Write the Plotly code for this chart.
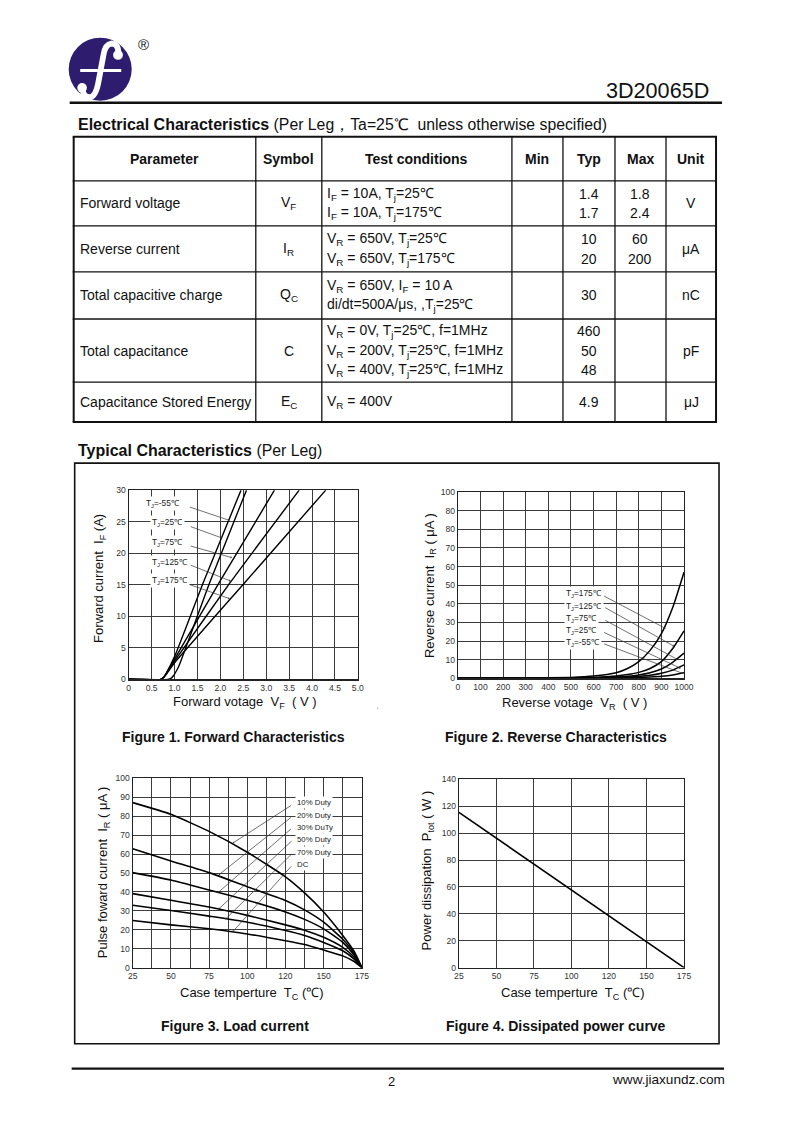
import plotly.graph_objects as go

PAGE_W, PAGE_H = 786, 1122
OFF = 8                      # browser body margin
W, H = PAGE_W - 2 * OFF, PAGE_H - 2 * OFF
# page coordinate system expressed in reference-picture pixels
SX, BX = 0.98, 5.5
SY, BY = 0.99, 5.4
X0, X1 = BX + SX * OFF, BX + SX * (OFF + W)
Y0, Y1 = BY + SY * OFF, BY + SY * (OFF + H)

FONT = "Liberation Sans, Arial, sans-serif"
INK = "#111111"
GRID = "#3c3c3c"
TICK = "#333333"
NAVY = "#2e1c6e"

# ---------------- page texts ----------------
part_number = "3D20065D"
section1_title = "Electrical Characteristics"
section1_note = " (Per Leg，Ta=25℃  unless otherwise specified)"
section2_title = "Typical Characteristics"
section2_note = " (Per Leg)"
page_number = "2"
website = "www.jiaxundz.com"

# ---------------- table data ----------------
col_headers = ["Parameter", "Symbol", "Test conditions", "Min", "Typ", "Max", "Unit"]
row_params = ["Forward voltage", "Reverse current", "Total capacitive charge",
              "Total capacitance", "Capacitance Stored Energy"]
row_symbols = ["V<sub>F</sub>", "I<sub>R</sub>", "Q<sub>C</sub>", "C", "E<sub>C</sub>"]
row_conditions = [
    ["I<sub>F</sub> = 10A, T<sub>j</sub>=25℃", "I<sub>F</sub> = 10A, T<sub>j</sub>=175℃"],
    ["V<sub>R</sub> = 650V, T<sub>j</sub>=25℃", "V<sub>R</sub> = 650V, T<sub>j</sub>=175℃"],
    ["V<sub>R</sub> = 650V, I<sub>F</sub> = 10 A", "di/dt=500A/μs, ,T<sub>j</sub>=25℃"],
    ["V<sub>R</sub> = 0V, T<sub>j</sub>=25℃, f=1MHz",
     "V<sub>R</sub> = 200V, T<sub>j</sub>=25℃, f=1MHz",
     "V<sub>R</sub> = 400V, T<sub>j</sub>=25℃, f=1MHz"],
    ["V<sub>R</sub> = 400V"],
]
row_min = [[], [], [], [], []]
row_typ = [["1.4", "1.7"], ["10", "20"], ["30"], ["460", "50", "48"], ["4.9"]]
row_max = [["1.8", "2.4"], ["60", "200"], [], [], []]
row_units = ["V", "μA", "nC", "pF", "μJ"]

# ---------------- Figure 1: forward characteristics ----------------
fwd_labels = ["T<sub>J</sub>=-55℃", "T<sub>J</sub>=25℃", "T<sub>J</sub>=75℃",
              "T<sub>J</sub>=125℃", "T<sub>J</sub>=175℃"]
fwd_vf = [
    [0, 0.85, 0.93, 0.98, 1.03, 1.10, 1.77, 2.57],
    [0, 0.70, 0.76, 0.82, 1.00, 1.63, 2.45],
    [0, 0.70, 0.76, 0.82, 1.00, 1.98, 3.18],
    [0, 0.70, 0.76, 0.82, 1.00, 2.22, 3.72],
    [0, 0.70, 0.76, 0.82, 1.00, 2.54, 4.30],
]
fwd_if = [
    [0, 0, 0.2, 0.6, 1.2, 2.2, 15.4, 30],
    [0, 0, 0.3, 1.0, 3.6, 15.4, 30],
    [0, 0, 0.3, 0.9, 3.2, 15.4, 30],
    [0, 0, 0.3, 0.9, 2.9, 15.4, 30],
    [0, 0, 0.3, 0.8, 2.6, 15.4, 30],
]
fwd_label_vf = [0.33, 0.47, 0.47, 0.47, 0.47]
fwd_label_if = [27.9, 24.8, 21.7, 18.6, 15.6]
fwd_tail_vf = [1.30, 1.32, 1.32, 1.32, 1.30]
fwd_tail_if = [27.4, 24.3, 21.2, 18.2, 15.1]
fwd_head_vf = [2.20, 2.04, 2.25, 2.22, 2.20]
fwd_head_if = [25.2, 22.4, 19.3, 15.6, 12.8]
fwd_xticks = [0, 0.5, 1.0, 1.5, 2.0, 2.5, 3.0, 3.5, 4.0, 4.5, 5.0]
fwd_xticktext = ["0", "0.5", "1.0", "1.5", "2.0", "2.5", "3.0", "3.5", "4.0", "4.5", "5.0"]
fwd_yticks = [0, 5, 10, 15, 20, 25, 30]

# ---------------- Figure 2: reverse characteristics ----------------
rev_labels = ["T<sub>J</sub>=175℃", "T<sub>J</sub>=125℃", "T<sub>J</sub>=75℃",
              "T<sub>J</sub>=25℃", "T<sub>J</sub>=-55℃"]
rev_vr = [0, 300, 500, 600, 700, 750, 800, 850, 900, 950, 1000]
rev_ir = [
    [0, 0.10, 0.50, 1.20, 3.00, 5.30, 9.0, 15.0, 24.0, 38.0, 57.0],
    [0, 0.05, 0.20, 0.50, 1.20, 2.00, 3.2, 5.3, 9.0, 16.0, 25.5],
    [0, 0.00, 0.10, 0.25, 0.70, 1.10, 1.8, 3.0, 5.0, 8.6, 13.5],
    [0, 0.00, 0.05, 0.15, 0.40, 0.60, 1.0, 1.6, 2.7, 4.4, 7.2],
    [0, 0.00, 0.00, 0.05, 0.15, 0.25, 0.4, 0.7, 1.1, 1.8, 3.0],
]
rev_label_vr = [470, 470, 470, 470, 470]
rev_label_ir = [45.5, 38.8, 32.3, 25.9, 19.3]
rev_tail_vr = [640, 645, 645, 640, 640]
rev_tail_ir = [44.6, 38.4, 31.6, 25.0, 18.8]
rev_head_vr = [918, 955, 970, 985, 993]
rev_head_ir = [26.8, 17.3, 10.2, 5.4, 2.7]
rev_xticks = [0, 100, 200, 300, 400, 500, 600, 700, 800, 900, 1000]
rev_yticks = [0, 10, 20, 30, 40, 50, 60, 70, 80, 90, 100]
rev_yticktext = ["0", "10", "20", "30", "40", "50", "60", "70", "80", "80", "100"]

# ---------------- Figure 3: load current ----------------
load_labels = ["10% Duty", "20% Duty", "30% DuTy", "50% Duty", "70% Duty", "DC"]
load_tc = [25, 50, 75, 100, 125, 137.5, 150, 162.5, 170, 175]
load_if = [
    [87.2, 81.0, 72.0, 61.0, 48.0, 39.5, 29.4, 17.0, 8.5, 0],
    [62.8, 56.4, 50.2, 42.7, 35.5, 30.5, 24.0, 15.0, 7.5, 0],
    [50.2, 46.3, 41.0, 35.6, 29.4, 25.5, 20.5, 13.3, 6.5, 0],
    [39.1, 35.6, 32.0, 27.6, 22.6, 19.8, 16.0, 10.7, 5.5, 0],
    [33.0, 30.2, 27.2, 24.0, 19.6, 17.0, 13.3, 8.9, 4.5, 0],
    [24.9, 22.6, 20.5, 17.8, 14.2, 12.2, 9.3, 6.2, 3.2, 0],
]
load_label_tc = [131.5, 131.5, 131.5, 131.5, 131.5, 131.5]
load_label_if = [87.2, 80.4, 74.2, 67.6, 61.0, 54.6]
load_tail_tc = [129.6, 129.6, 129.6, 130.0, 130.0, 129.6]
load_tail_if = [86.2, 80.0, 74.0, 67.6, 60.8, 54.3]
load_head_tc = [90.5, 81.3, 80.5, 81.3, 85.7, 90.5]
load_head_if = [65.8, 49.0, 39.4, 31.0, 25.6, 19.0]
tc_ticks = [25, 37.5, 50, 62.5, 75, 87.5, 100, 112.5, 125, 137.5, 150, 162.5, 175]
tc_ticktext = ["25", "", "50", "", "75", "", "100", "", "120", "", "150", "", "175"]
load_yticks = [0, 10, 20, 30, 40, 50, 60, 70, 80, 90, 100]

# ---------------- Figure 4: dissipated power ----------------
pwr_tc = [25, 175]
pwr_p = [115.5, 0]
pwr_xticks = [25, 50, 75, 100, 125, 150, 175]
pwr_xticktext = ["25", "50", "75", "100", "120", "150", "175"]
pwr_yticks = [0, 20, 40, 60, 80, 100, 120, 140]

# ---------------- figure ----------------
fig = go.Figure()
fig.add_trace(go.Scatter(x=[None], y=[None], xaxis="x", yaxis="y",
                         showlegend=False, hoverinfo="skip"))

shapes = []
ann = []


def text(x, y, s, size=14, anchor="left", bold=False, color=INK, angle=0, yanchor="middle"):
    if bold:
        s = "<b>" + s + "</b>"
    ann.append(dict(x=x, y=y, xref="x", yref="y", text=s, showarrow=False,
                    xanchor=anchor, yanchor=yanchor, textangle=angle,
                    font=dict(family=FONT, size=size, color=color)))


def hline(x0, x1, y, w=1.0, color=INK):
    shapes.append(dict(type="line", xref="x", yref="y", x0=x0, x1=x1, y0=y, y1=y,
                       line=dict(color=color, width=w)))


def vline(x, y0, y1, w=1.0, color=INK):
    shapes.append(dict(type="line", xref="x", yref="y", x0=x, x1=x, y0=y0, y1=y1,
                       line=dict(color=color, width=w)))


# ---- logo ----
shapes.append(dict(type="circle", xref="x", yref="y", x0=69, x1=132, y0=38, y1=101,
                   fillcolor=NAVY, line=dict(width=0)))
shapes.append(dict(type="path", xref="x", yref="y",
                   path="M 118.5,53.5 Q 119,43.8 111.5,43.8 Q 105.5,44.5 103.8,55 "
                        "L 98.4,84 Q 95.6,97.8 89.2,97.5 Q 84,97 83,90.5",
                   line=dict(color="white", width=5.8)))
shapes.append(dict(type="circle", xref="x", yref="y", x0=113.4, x1=123.2, y0=50.3, y1=60.1,
                   fillcolor="white", line=dict(width=0)))
shapes.append(dict(type="circle", xref="x", yref="y", x0=77.6, x1=87.2, y0=83.3, y1=92.9,
                   fillcolor="white", line=dict(width=0)))
shapes.append(dict(type="rect", xref="x", yref="y", x0=80.5, x1=121.5, y0=69.2, y1=72.2,
                   fillcolor="white", line=dict(width=0)))
text(143.5, 45, "®", size=15, anchor="center")

text(711, 91, part_number, size=21.6, anchor="right")
hline(70, 722, 103, w=2.6)

# ---- section 1 ----
text(76, 125, "<b>" + section1_title + "</b><span style='font-size:15.8px'>" + section1_note + "</span>",
     size=16)

col_x = [74, 256, 322, 512, 563, 615, 666, 716]
row_y = [137, 181, 226, 272, 319, 382, 422]
for i, yy in enumerate(row_y):
    hline(col_x[0] - 1, col_x[-1] + 1, yy, w=2.0 if i in (0, len(row_y) - 1) else 1.3)
for j, xx in enumerate(col_x):
    vline(xx, row_y[0], row_y[-1], w=2.0 if j in (0, len(col_x) - 1) else 1.3)

hdr_y = (row_y[0] + row_y[1]) / 2
for j, h in enumerate(col_headers):
    text((col_x[j] + col_x[j + 1]) / 2, hdr_y, h, size=14, anchor="center", bold=True)

TS = 14
LS = 19.7
for r in range(len(row_params)):
    cy = (row_y[r + 1] + row_y[r + 2]) / 2
    text(col_x[0] + 4, cy, row_params[r], size=TS)
    text((col_x[1] + col_x[2]) / 2, cy, row_symbols[r], size=TS, anchor="center")
    text((col_x[6] + col_x[7]) / 2, cy, row_units[r], size=TS, anchor="center")
    for lines, cx, anc in ((row_conditions[r], col_x[2] + 3, "left"),
                           (row_min[r], (col_x[3] + col_x[4]) / 2, "center"),
                           (row_typ[r], (col_x[4] + col_x[5]) / 2, "center"),
                           (row_max[r], (col_x[5] + col_x[6]) / 2, "center")):
        n = len(lines)
        for k, s in enumerate(lines):
            text(cx, cy + (k - (n - 1) / 2) * LS, s, size=TS, anchor=anc)

# ---- section 2 ----
text(76, 450, "<b>" + section2_title + "</b><span style='font-size:15.8px'>" + section2_note + "</span>",
     size=16)
shapes.append(dict(type="rect", xref="x", yref="y", x0=75, x1=719, y0=463, y1=1043,
                   line=dict(color=INK, width=1.6)))

AT = 13
CS = 14
text(100, 578, "Forward current  I<sub>F</sub> (A)", size=AT, anchor="center", angle=-90)
text(245, 702, "Forward votage  V<sub>F</sub>  ( V )", size=AT, anchor="center")
text(380, 705, "、", size=7, anchor="center")
text(234, 737, "Figure 1. Forward Characteristics", size=CS, anchor="center", bold=True)

text(430, 585, "Reverse current  I<sub>R</sub> ( μA )", size=AT, anchor="center", angle=-90)
text(575, 703, "Reverse votage  V<sub>R</sub>  ( V )", size=AT, anchor="center")
text(556, 737, "Figure 2. Reverse Characteristics", size=CS, anchor="center", bold=True)

text(104, 872, "Pulse foward current  I<sub>R</sub> ( μA )", size=AT, anchor="center", angle=-90)
text(252, 993, "Case temperture  T<sub>C</sub> (℃)", size=AT, anchor="center")
text(235, 1025, "Figure 3. Load current", size=CS, anchor="center", bold=True)

text(428, 870, "Power dissipation  P<sub>tot</sub> ( W )", size=AT, anchor="center", angle=-90)
text(573, 993, "Case temperture  T<sub>C</sub> (℃)", size=AT, anchor="center")
text(556, 1025, "Figure 4. Dissipated power curve", size=CS, anchor="center", bold=True)

hline(72, 724, 1068, w=2.2)
text(392, 1081, page_number, size=13, anchor="center")
text(727, 1079, website, size=13.6, anchor="right")


# ---------------- chart traces ----------------
def curve(xs, ys, xa, ya, w=1.4):
    fig.add_trace(go.Scatter(x=xs, y=ys, xaxis=xa, yaxis=ya, mode="lines",
                             line=dict(color="black", width=w, shape="spline", smoothing=0.5),
                             showlegend=False, hoverinfo="skip"))


for xs, ys in zip(fwd_vf, fwd_if):
    curve(xs, ys, "x2", "y2", 1.4)
for ys in rev_ir:
    curve(rev_vr, ys, "x3", "y3", 1.5)
for ys in load_if:
    curve(load_tc, ys, "x4", "y4", 1.6)
curve(pwr_tc, pwr_p, "x5", "y5", 1.6)


def labels(xa, ya, names, lx, ly, tx, ty, hx, hy, size):
    for n, a, b, c, d, e, f in zip(names, lx, ly, tx, ty, hx, hy):
        ann.append(dict(x=e, y=f, ax=c, ay=d, xref=xa, yref=ya, axref=xa, ayref=ya,
                        text="", showarrow=True, arrowhead=1, arrowsize=0.6,
                        arrowwidth=0.7, arrowcolor="#333333", standoff=0, startstandoff=0))
        ann.append(dict(x=a, y=b, xref=xa, yref=ya, text=n, showarrow=False,
                        xanchor="left", yanchor="middle", bgcolor="white", borderpad=1,
                        font=dict(family=FONT, size=size, color="#222222")))


labels("x2", "y2", fwd_labels, fwd_label_vf, fwd_label_if, fwd_tail_vf, fwd_tail_if,
       fwd_head_vf, fwd_head_if, 8.3)
labels("x3", "y3", rev_labels, rev_label_vr, rev_label_ir, rev_tail_vr, rev_tail_ir,
       rev_head_vr, rev_head_ir, 8.3)
labels("x4", "y4", load_labels, load_label_tc, load_label_if, load_tail_tc, load_tail_if,
       load_head_tc, load_head_if, 7.8)


def plot_axes(dx, dy, rng, vals, txt, anchor):
    if anchor.startswith("y"):
        dom = [(dx[0] - X0) / (X1 - X0), (dx[1] - X0) / (X1 - X0)]
    else:
        dom = [(Y1 - dy[1]) / (Y1 - Y0), (Y1 - dy[0]) / (Y1 - Y0)]
    return dict(domain=dom, range=rng, tickmode="array", tickvals=vals, ticktext=txt,
                showgrid=True, gridcolor=GRID, gridwidth=1, showline=True, mirror=True,
                linecolor="#222222", linewidth=1.2, zeroline=False, ticks="",
                tickfont=dict(family=FONT, size=8.6, color=TICK), anchor=anchor,
                fixedrange=True)


page_ax = dict(domain=[0, 1], visible=False, fixedrange=True, showgrid=False, zeroline=False)

layouts = {}
specs = [
    ((129, 358), (490, 679), [0, 5], fwd_xticks, fwd_xticktext, [0, 30], fwd_yticks,
     [str(v) for v in fwd_yticks]),
    ((458, 684), (492, 678), [0, 1000], rev_xticks, [str(v) for v in rev_xticks], [0, 100],
     rev_yticks, rev_yticktext),
    ((133, 362), (778, 967), [25, 175], tc_ticks, tc_ticktext, [0, 100], load_yticks,
     [str(v) for v in load_yticks]),
    ((459, 684), (779, 967), [25, 175], pwr_xticks, pwr_xticktext, [0, 140], pwr_yticks,
     [str(v) for v in pwr_yticks]),
]
for i, (dx, dy, xr, xv, xt, yr, yv, yt) in enumerate(specs, start=2):
    layouts["xaxis%d" % i] = plot_axes(dx, dy, xr, xv, xt, "y%d" % i)
    layouts["yaxis%d" % i] = plot_axes(dx, dy, yr, yv, yt, "x%d" % i)

fig.update_layout(
    width=W, height=H, margin=dict(l=0, r=0, t=0, b=0),
    paper_bgcolor="white", plot_bgcolor="white",
    xaxis=dict(page_ax, range=[X0, X1]),
    yaxis=dict(page_ax, range=[Y1, Y0]),
    shapes=shapes, annotations=ann, showlegend=False,
    font=dict(family=FONT, color=INK),
    **layouts,
)

fig.write_html("out.html", include_plotlyjs=True,
               config={"displayModeBar": False, "staticPlot": True})
